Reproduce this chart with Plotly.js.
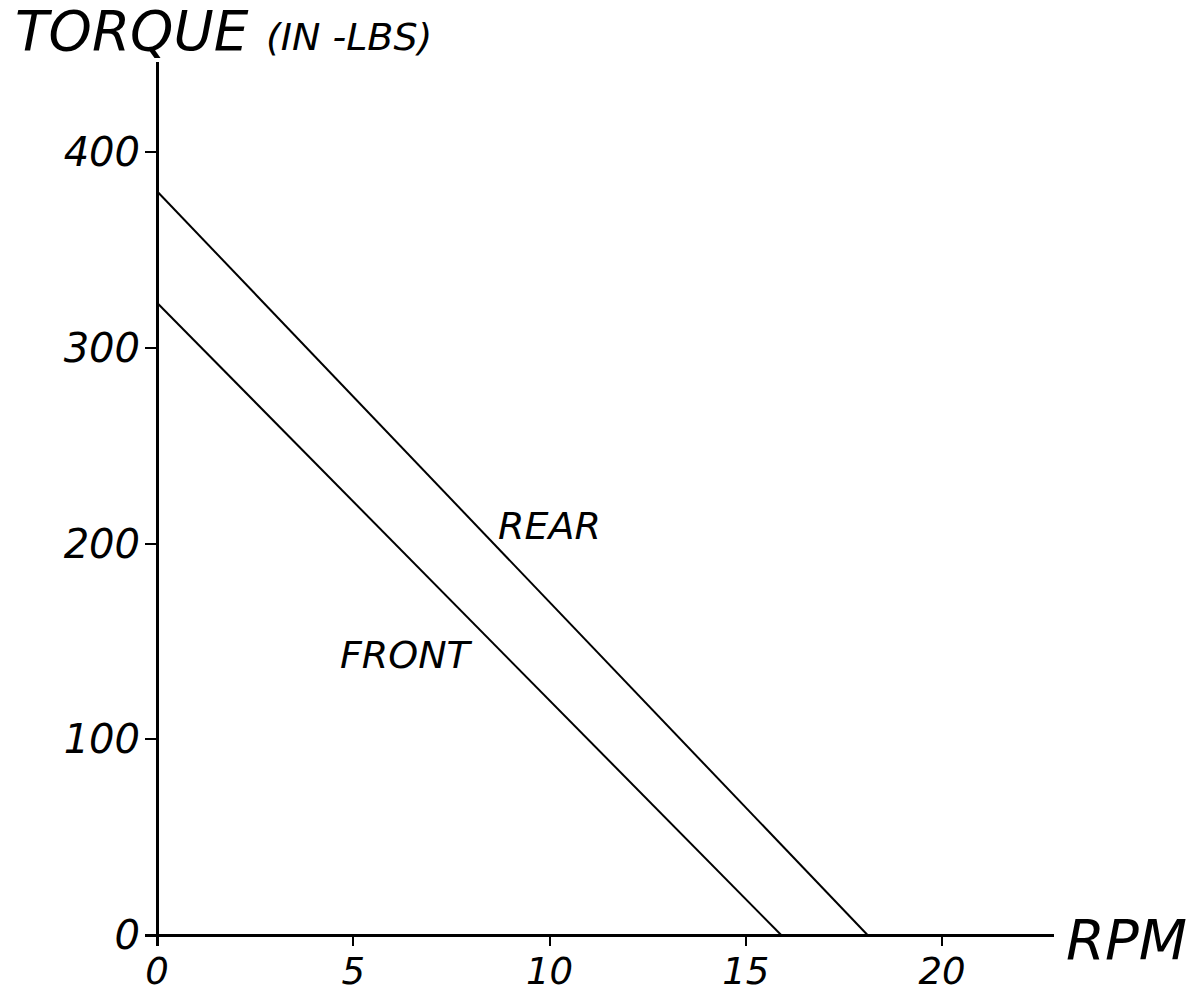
<!DOCTYPE html>
<html>
<head>
<meta charset="utf-8">
<script src="https://cdn.plot.ly/plotly-3.0.1.min.js"></script>
<style>html,body{margin:0;padding:0;background:#fff;}#chart{width:1204px;height:996px;}</style>
</head>
<body>
<div id="chart"></div>
<script>
// Data
const rearRpm = [0, 18.1];
const rearTorque = [380, 0];
const frontRpm = [0, 15.9];
const frontTorque = [323, 0];
const xTicks = [0, 5, 10, 15, 20];
const xTickLabels = ['0', '5', '10', '15', '20'];
const yTicks = [0, 100, 200, 300, 400];
const yTickLabels = ['0', '100', '200', '300', '400'];
const seriesNames = ['REAR', 'FRONT'];

const FONT = 'DejaVu Sans, sans-serif';
const yTickFont = {family: FONT, size: 40, color: '#000', style: 'italic'};
const xTickFont = {family: FONT, size: 37, color: '#000', style: 'italic'};

const traces = [
  {x: rearRpm, y: rearTorque, mode: 'lines', name: seriesNames[0],
   line: {color: '#000', width: 2}, hoverinfo: 'skip'},
  {x: frontRpm, y: frontTorque, mode: 'lines', name: seriesNames[1],
   line: {color: '#000', width: 2}, hoverinfo: 'skip'}
];

const layout = {
  width: 1204, height: 996,
  margin: {l: 145, r: 150, t: 62, b: 50},
  paper_bgcolor: '#fff', plot_bgcolor: '#fff',
  showlegend: false,
  title: {
    text: 'TORQUE <span style="font-size:38px">(IN -LBS)</span>',
    font: {family: FONT, size: 55, color: '#000', style: 'italic'},
    xref: 'container', yref: 'container',
    x: 15 / 1204, xanchor: 'left',
    y: 1 - 31 / 996, yanchor: 'middle'
  },
  xaxis: {
    range: [-0.306, 22.85],
    tickmode: 'array', tickvals: xTicks, ticktext: xTickLabels,
    ticks: 'inside', ticklen: 11, tickwidth: 2, tickcolor: '#000',
    showgrid: false, showline: false,
    zeroline: true, zerolinecolor: '#000', zerolinewidth: 3,
    tickfont: xTickFont, ticklabelstandoff: 0,
    fixedrange: true
  },
  yaxis: {
    range: [-5.6, 446],
    tickmode: 'array', tickvals: yTicks, ticktext: yTickLabels,
    ticks: 'inside', ticklen: 12, tickwidth: 2, tickcolor: '#000',
    showgrid: false, showline: false,
    zeroline: true, zerolinecolor: '#000', zerolinewidth: 3,
    tickfont: yTickFont, ticklabelstandoff: 4,
    fixedrange: true
  },
  annotations: [
    {x: 10.0, y: 209, xref: 'x', yref: 'y', text: seriesNames[0], showarrow: false,
     font: {family: FONT, size: 38, color: '#000', style: 'italic'}},
    {x: 6.35, y: 143, xref: 'x', yref: 'y', text: seriesNames[1], showarrow: false,
     font: {family: FONT, size: 38, color: '#000', style: 'italic'}},
    {x: (1126 - 145) / 909, y: (946 - 939) / 884, xref: 'paper', yref: 'paper',
     text: 'RPM', showarrow: false, xanchor: 'center', yanchor: 'middle',
     font: {family: FONT, size: 56, color: '#000', style: 'italic'}}
  ]
};

Plotly.newPlot('chart', traces, layout, {displayModeBar: false, staticPlot: true});
</script>
</body>
</html>
